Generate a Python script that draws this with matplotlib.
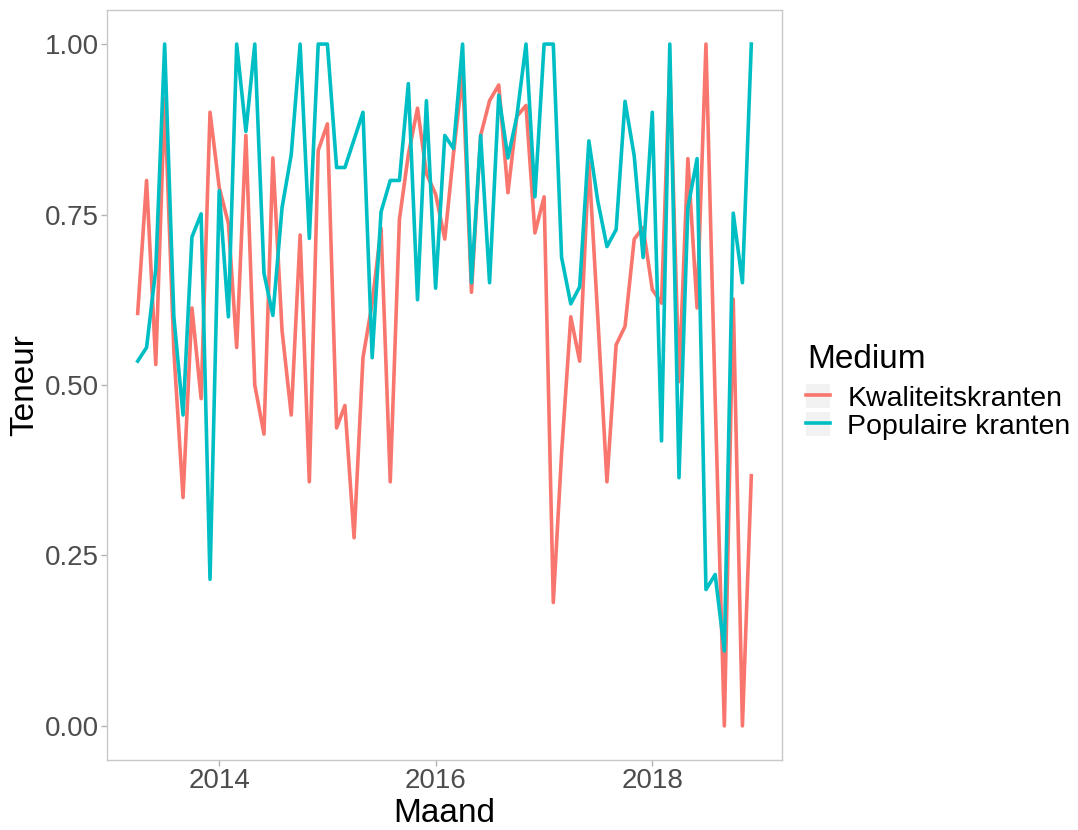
import pandas as pd
import matplotlib
matplotlib.use("Agg")
import matplotlib.pyplot as plt
import matplotlib.dates as mdates
from matplotlib.patches import Patch
from matplotlib.lines import Line2D
from matplotlib.legend_handler import HandlerTuple

plt.rcParams['font.family'] = ['Liberation Sans', 'DejaVu Sans']

# Maandelijkse teneur per medium, april 2013 t/m december 2018
maanden = pd.date_range("2013-04-01", periods=69, freq="MS")

kwaliteit = [0.605, 0.80, 0.53, 0.92, 0.55, 0.335, 0.613, 0.48, 0.90,
             0.79, 0.737, 0.555, 0.866, 0.50, 0.428, 0.833, 0.58, 0.456,
             0.72, 0.358, 0.844, 0.883, 0.437, 0.47, 0.276, 0.54, 0.62,
             0.73, 0.358, 0.743, 0.838, 0.906, 0.81, 0.78, 0.714, 0.838,
             0.956, 0.636, 0.866, 0.917, 0.94, 0.782, 0.894, 0.91, 0.723,
             0.776, 0.181, 0.40, 0.60, 0.535, 0.827, 0.60, 0.358, 0.559,
             0.586, 0.714, 0.731, 0.64, 0.62, 0.97, 0.505, 0.832, 0.613,
             1.0, 0.48, 0.0, 0.626, 0.0, 0.367]

populair = [0.535, 0.555, 0.67, 1.0, 0.60, 0.456, 0.717, 0.751, 0.215,
            0.785, 0.60, 1.0, 0.872, 1.0, 0.664, 0.602, 0.76, 0.838,
            1.0, 0.715, 1.0, 1.0, 0.819, 0.819, 0.86, 0.90, 0.54,
            0.754, 0.80, 0.80, 0.942, 0.625, 0.917, 0.642, 0.866, 0.847,
            1.0, 0.65, 0.866, 0.65, 0.925, 0.833, 0.894, 1.0, 0.776,
            1.0, 1.0, 0.687, 0.619, 0.644, 0.858, 0.77, 0.703, 0.728,
            0.916, 0.836, 0.687, 0.90, 0.418, 1.0, 0.364, 0.76, 0.832,
            0.20, 0.222, 0.11, 0.752, 0.65, 1.0]

labels = ["Kwaliteitskranten", "Populaire kranten"]
colors = ["#F8766D", "#00BFC4"]

fig = plt.figure(figsize=(10.78, 8.3), dpi=100)
ax = fig.add_axes([107 / 1078, 1 - 760 / 830, 675 / 1078, 750 / 830])

ax.plot(maanden, kwaliteit, color=colors[0], lw=2.6)
ax.plot(maanden, populair, color=colors[1], lw=2.6)

ax.margins(x=0.05, y=0.05)
ax.set_yticks([0, 0.25, 0.5, 0.75, 1.0])
ax.set_yticklabels(["0.00", "0.25", "0.50", "0.75", "1.00"])
ax.xaxis.set_major_locator(mdates.YearLocator(2))
ax.xaxis.set_major_formatter(mdates.DateFormatter("%Y"))

for s in ax.spines.values():
    s.set_color("#C8C8C8")
    s.set_linewidth(1.0)
ax.tick_params(colors="#B3B3B3", labelcolor="#4D4D4D", labelsize=20,
               length=4, width=1, pad=2)

ax.set_xlabel("Maand", fontsize=24, labelpad=3)
ax.set_ylabel("Teneur", fontsize=24, labelpad=3)

# legend: title as separate text, keys with grey background
fig.text(807 / 1078, 1 - 368 / 830, "Medium", fontsize=24, va="baseline")
handles = [(Patch(facecolor="#F2F2F2", edgecolor="none"),
            Line2D([], [], color=c, lw=2.6)) for c in colors]
leg = fig.legend(handles, labels, loc="upper left",
                 bbox_to_anchor=(806 / 1078, 1 - 384 / 830),
                 frameon=False, fontsize=20.5,
                 handler_map={tuple: HandlerTuple(ndivide=1, pad=0)},
                 handlelength=0.85, handleheight=0.92, handletextpad=0.6,
                 labelspacing=0.0, borderpad=0, borderaxespad=0)

fig.savefig("out.png", dpi=100)
